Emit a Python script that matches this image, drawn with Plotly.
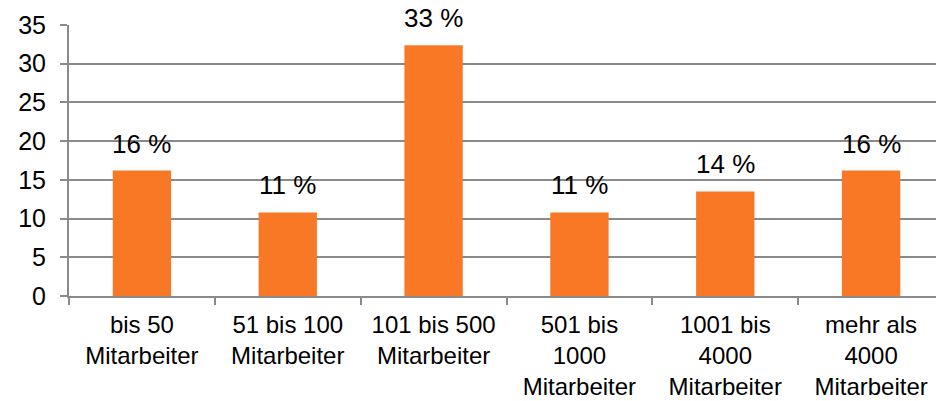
import plotly.graph_objects as go

categories = ["bis 50<br>Mitarbeiter", "51 bis 100<br>Mitarbeiter", "101 bis 500<br>Mitarbeiter",
              "501 bis<br>1000<br>Mitarbeiter", "1001 bis<br>4000<br>Mitarbeiter", "mehr als<br>4000<br>Mitarbeiter"]
values = [16.2, 10.8, 32.4, 10.8, 13.5, 16.2]
labels = ["16 %", "11 %", "33 %", "11 %", "14 %", "16 %"]
y_ticks = [0, 5, 10, 15, 20, 25, 30, 35]

FONT = "Liberation Sans, Arial, sans-serif"
GRID = "#8a8a8a"

fig = go.Figure()
fig.add_trace(go.Bar(x=categories, y=values, marker=dict(color="#F87826", line=dict(width=0)),
                     width=0.4, hoverinfo="skip"))

for c, v, t in zip(categories, values, labels):
    fig.add_annotation(x=c, y=v, text=t, showarrow=False, yanchor="middle", yshift=27,
                       font=dict(family=FONT, size=26, color="#000000"))

fig.update_layout(
    width=936, height=401,
    margin=dict(l=69, r=0, t=25, b=105, autoexpand=False),
    paper_bgcolor="white", plot_bgcolor="white",
    showlegend=False,
    font=dict(family=FONT, size=25, color="#000000"),
)
fig.update_xaxes(
    type="category", range=[-0.5, 5.445], automargin=False,
    showline=True, linecolor=GRID, linewidth=2,
    ticks="outside", tickson="boundaries", ticklen=7, tickcolor=GRID, tickwidth=2,
    showgrid=False, ticklabelstandoff=6,
    tickfont=dict(family=FONT, size=24, color="#000000"),
)
fig.update_yaxes(
    range=[0, 35], tickvals=y_ticks, automargin=False,
    showline=True, linecolor=GRID, linewidth=2,
    ticks="outside", ticklen=7, tickcolor=GRID, tickwidth=2,
    showgrid=True, gridcolor=GRID, gridwidth=2,
    zeroline=False, ticklabelstandoff=9,
    tickfont=dict(family=FONT, size=25, color="#000000"),
)

# remove the default 8px body margin so the figure fills the 936x401 window exactly
fig.write_html("out.html", config={"displayModeBar": False},
               post_script="document.body.style.margin='0px';")
